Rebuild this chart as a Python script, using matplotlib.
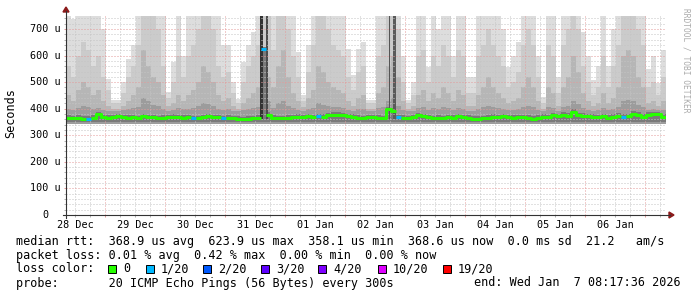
import matplotlib
matplotlib.use("Agg")
import matplotlib.pyplot as plt
import matplotlib.dates as mdates
from matplotlib.ticker import MultipleLocator, NullFormatter
from matplotlib.patches import Rectangle, Polygon
from matplotlib.lines import Line2D
from datetime import datetime, timedelta

# ---- data: 120 two-hour columns, 28 Dec 08:17 -> 07 Jan 08:17 (values in us) ----
median_us = [366, 364, 366, 363, 363, 366, 380, 367, 366, 368,
             372, 368, 366, 367, 365, 372, 369, 367, 365, 366,
             368, 370, 367, 366, 368, 365, 364, 368, 371, 369,
             367, 365, 366, 364, 363, 360, 362, 364, 366, 624,
             378, 366, 364, 365, 366, 368, 370, 368, 371, 369,
             372, 370, 376, 378, 377, 375, 372, 370, 366, 365,
             367, 368, 366, 364, 399, 392, 368, 366, 364, 368,
             375, 372, 367, 365, 366, 364, 368, 366, 372, 369,
             366, 363, 362, 364, 366, 370, 368, 371, 368, 366,
             369, 367, 366, 363, 366, 370, 368, 375, 372, 378,
             374, 389, 376, 374, 372, 370, 368, 372, 366, 370,
             374, 370, 372, 381, 378, 370, 378, 379, 379, 370]

# columns with packet loss (column index -> lost pings out of 20)
loss_cols = {4: 1, 25: 1, 31: 1, 39: 1, 50: 1, 66: 1, 111: 1}

# smoke layer tops, outer (light) to inner (dark)
smoke_l1 = [760, 739, 760, 760, 760, 760, 760, 700, 513, 432,
            432, 500, 588, 640, 760, 760, 760, 760, 760, 760,
            463, 576, 760, 600, 760, 760, 760, 760, 760, 760,
            760, 640, 640, 500, 438, 576, 640, 689, 760, 760,
            760, 760, 760, 760, 760, 760, 614, 450, 640, 760,
            760, 760, 760, 760, 760, 760, 626, 526, 626, 651,
            433, 433, 760, 760, 760, 760, 760, 600, 433, 500,
            760, 760, 557, 760, 700, 760, 760, 600, 760, 760,
            520, 520, 760, 760, 760, 760, 760, 700, 557, 600,
            650, 760, 760, 760, 600, 444, 760, 760, 520, 760,
            760, 760, 760, 689, 600, 508, 560, 760, 560, 700,
            760, 760, 760, 760, 760, 760, 550, 600, 497, 620]
smoke_l2 = [560, 520, 600, 650, 620, 560, 600, 520, 470, 420,
            420, 460, 520, 560, 640, 760, 760, 760, 700, 560,
            440, 500, 600, 520, 600, 640, 700, 760, 760, 700,
            560, 520, 540, 460, 420, 500, 560, 600, 640, 760,
            760, 620, 760, 760, 700, 600, 520, 430, 540, 640,
            760, 760, 700, 640, 620, 600, 520, 470, 540, 560,
            420, 420, 600, 640, 760, 760, 700, 500, 420, 450,
            600, 620, 500, 600, 560, 640, 600, 520, 620, 600,
            460, 460, 600, 640, 700, 640, 600, 560, 480, 500,
            540, 640, 700, 640, 520, 420, 640, 600, 460, 640,
            700, 760, 700, 560, 500, 450, 480, 600, 480, 560,
            640, 760, 760, 760, 700, 640, 480, 500, 450, 520]
smoke_l3 = [450, 430, 470, 500, 480, 450, 470, 430, 410, 400,
            400, 410, 430, 450, 480, 620, 560, 520, 500, 450,
            410, 420, 450, 430, 450, 470, 500, 560, 540, 500,
            450, 430, 440, 410, 400, 420, 440, 460, 480, 560,
            520, 480, 560, 620, 520, 460, 430, 405, 440, 470,
            560, 540, 500, 480, 470, 460, 430, 410, 440, 450,
            400, 400, 460, 480, 560, 600, 520, 430, 400, 410,
            450, 470, 430, 460, 440, 480, 460, 430, 470, 450,
            410, 410, 450, 480, 520, 480, 460, 440, 420, 430,
            440, 480, 520, 480, 430, 400, 480, 460, 410, 480,
            520, 600, 540, 460, 430, 410, 420, 460, 420, 440,
            480, 600, 620, 600, 520, 480, 420, 430, 410, 430]
smoke_l4 = [400, 396, 404, 410, 405, 400, 404, 396, 392, 390,
            392, 394, 398, 402, 408, 440, 430, 415, 410, 400,
            392, 396, 402, 398, 400, 404, 410, 420, 418, 410,
            400, 396, 398, 392, 390, 394, 398, 402, 408, 440,
            430, 404, 420, 430, 412, 402, 396, 390, 398, 404,
            420, 415, 410, 408, 405, 402, 396, 392, 398, 400,
            390, 390, 402, 408, 430, 440, 412, 396, 390, 392,
            402, 406, 396, 402, 398, 406, 402, 396, 404, 400,
            392, 392, 400, 406, 412, 406, 402, 398, 394, 396,
            398, 406, 412, 406, 396, 390, 406, 402, 392, 406,
            412, 430, 416, 402, 396, 392, 394, 402, 394, 398,
            406, 430, 432, 430, 414, 406, 396, 398, 394, 396]
floor_us = 343

# narrow dark bars (hours after start, duration in hours, top in us)
core_start_h = [77.6, 80.0, 129.0, 131.0]
core_len_h = [1.2, 0.9, 0.7, 1.0]
core_top_us = [760, 760, 760, 760]
core_shade = ["#333333", "#4c4c4c", "#555555", "#5a5a5a"]

y_ticks = [0, 100, 200, 300, 400, 500, 600, 700]
y_labels = ["0", "100 u", "200 u", "300 u", "400 u", "500 u", "600 u", "700 u"]
day_labels = ["28 Dec", "29 Dec", "30 Dec", "31 Dec", "01 Jan",
              "02 Jan", "03 Jan", "04 Jan", "05 Jan", "06 Jan"]

loss_labels = ["0", "1/20", "2/20", "3/20", "4/20", "10/20", "19/20"]
loss_colors = ["#26ff00", "#00b8ff", "#0059ff", "#5e00ff", "#7e00ff", "#dd00ff", "#ff0000"]
loss_level_color = {0: "#26ff00", 1: "#00b8ff", 2: "#0059ff", 3: "#5e00ff",
                    4: "#7e00ff", 10: "#dd00ff", 19: "#ff0000"}

# ---- figure ----
plt.rcParams['font.family'] = ['DejaVu Sans Mono']
W, H = 697, 297
fig = plt.figure(figsize=(W / 100, H / 100), dpi=100)
fig.patch.set_facecolor("white")

def fx(px):
    return px / W

def fy(py):
    return 1 - py / H

start = datetime(2025, 12, 28, 8, 17, 36)
step = timedelta(hours=2)
n = len(median_us)
x = [mdates.date2num(start + i * step) for i in range(n)]
bw = 2 / 24

ax = fig.add_axes([fx(66), fy(215), 600 / W, (215 - 15.7) / H])
ax.set_xlim(mdates.date2num(start), mdates.date2num(start + timedelta(hours=240)))
ax.set_ylim(0, 750)
for s in ax.spines.values():
    s.set_visible(False)

# smoke
for tops, col in zip([smoke_l1, smoke_l2, smoke_l3, smoke_l4],
                     ["#dddddd", "#cbcbcb", "#b6b6b6", "#9c9c9c"]):
    ax.bar(x, [t - floor_us for t in tops], bottom=floor_us, width=bw,
           align='edge', color=col, linewidth=0, zorder=1)
ax.bar(x, [m + 9 - 350 for m in median_us], bottom=350, width=bw,
       align='edge', color="#7a7a7a", linewidth=0, zorder=1.1)
for h0, ln, top, col in zip(core_start_h, core_len_h, core_top_us, core_shade):
    ax.bar(mdates.date2num(start + timedelta(hours=h0)), top - 360, bottom=360,
           width=ln / 24, align='edge', color=col, linewidth=0, zorder=1.2)

# grid
ax.xaxis.set_major_locator(mdates.DayLocator())
ax.xaxis.set_minor_locator(mdates.HourLocator(byhour=[6, 12, 18]))
ax.yaxis.set_major_locator(MultipleLocator(100))
ax.yaxis.set_minor_locator(MultipleLocator(20))
ax.xaxis.set_major_formatter(NullFormatter())
ax.yaxis.set_major_formatter(NullFormatter())
ax.grid(which='minor', color='#c4c4c4', linestyle=(0, (1, 2)), linewidth=0.72, zorder=2)
ax.grid(which='major', color='#e49a9a', linestyle=(0, (1, 2)), linewidth=0.72, zorder=2)
ax.set_axisbelow(False)
ax.tick_params(which='both', direction='out', length=1.5, width=0.7)
ax.tick_params(which='minor', color='#b0b0b0')
ax.tick_params(which='major', color='#e49a9a')

# median line coloured by loss
lvl = [loss_cols.get(i, 0) for i in range(n)]
i = 0
while i < n:
    j = i
    while j + 1 < n and lvl[j + 1] == lvl[i]:
        j += 1
    xs = x[i:j + 1] + [x[j] + bw]
    ys = median_us[i:j + 1] + [median_us[j]]
    ax.step(xs, ys, where='post', color=loss_level_color[lvl[i]], lw=2.2,
            solid_capstyle='butt', zorder=4)
    i = j + 1

# tick labels
for v, lab in zip(y_ticks, y_labels):
    ax.text(-21 / 600, v, lab, transform=ax.get_yaxis_transform(),
            ha='center', va='center', fontsize=7.3)
for d, lab in enumerate(day_labels):
    noon = mdates.date2num(datetime(2025, 12, 28, 12) + timedelta(days=d))
    ax.text(noon, -0.05, lab, transform=ax.get_xaxis_transform(),
            ha='center', va='center', fontsize=7.3)

# axes lines and arrows
fig.add_artist(Line2D([fx(66), fx(66)], [fy(218), fy(11)], color='#333333', lw=0.8))
fig.add_artist(Line2D([fx(63), fx(670)], [fy(215), fy(215)], color='#333333', lw=0.8))
fig.add_artist(Polygon([[fx(63), fy(12)], [fx(69), fy(12)], [fx(66), fy(7)]],
                       closed=True, color='#8b1a1a', transform=fig.transFigure))
fig.add_artist(Polygon([[fx(669), fy(212)], [fx(669), fy(218)], [fx(674), fy(215)]],
                       closed=True, color='#8b1a1a', transform=fig.transFigure))

fig.text(fx(11), fy(113), "Seconds", rotation=90, ha='center', va='center', fontsize=8.5)
fig.text(fx(686), fy(8), "RRDTOOL / TOBI OETIKER", rotation=270, ha='center', va='top',
         fontsize=5.7, color='#aaaaaa')

# legend
fs = 8.5
fig.text(fx(15.5), fy(241),
         "median rtt:  368.9 us avg  623.9 us max  358.1 us min  368.6 us now  0.0 ms sd  21.2   am/s",
         ha='left', va='center', fontsize=fs)
fig.text(fx(15.5), fy(255),
         "packet loss: 0.01 % avg  0.42 % max  0.00 % min  0.00 % now",
         ha='left', va='center', fontsize=fs)
fig.text(fx(15.5), fy(269), "loss color:", ha='left', va='center', fontsize=fs)
for bx, lab, col in zip([108, 146, 203, 261, 318, 378, 443], loss_labels, loss_colors):
    fig.add_artist(Rectangle((fx(bx), fy(273)), 8 / W, 8 / H, facecolor=col,
                             edgecolor='black', lw=0.7, transform=fig.transFigure))
    fig.text(fx(bx + 15), fy(269), lab, ha='left', va='center', fontsize=fs)
fig.text(fx(15.5), fy(283), "probe:       20 ICMP Echo Pings (56 Bytes) every 300s",
         ha='left', va='center', fontsize=fs)
fig.text(fx(681), fy(283), "end: Wed Jan  7 08:17:36 2026", ha='right', va='center', fontsize=fs)

fig.savefig("out.png", dpi=100)
